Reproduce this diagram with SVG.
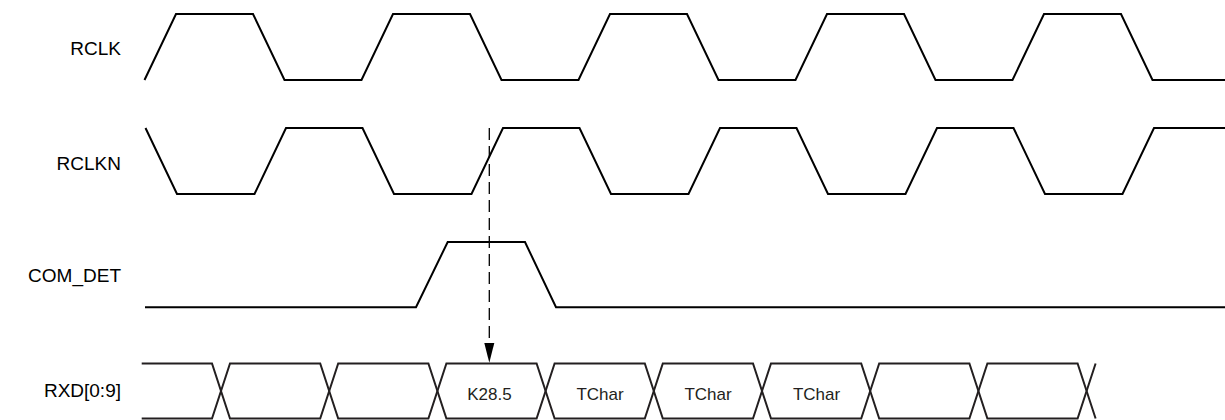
<svg xmlns="http://www.w3.org/2000/svg" width="1225" height="420" viewBox="0 0 1225 420">
<defs>
<style>
.wave{fill:none;stroke:#000;stroke-width:2;stroke-linejoin:miter}
.bus{fill:none;stroke:#231f20;stroke-width:2}
.lbl{font-family:"Liberation Sans",Arial,sans-serif;font-size:19px;fill:#000;text-anchor:end}
.val{font-family:"Liberation Sans",Arial,sans-serif;font-size:17px;fill:#231f20;text-anchor:middle}
.dash{fill:none;stroke:#000;stroke-width:1.3;stroke-dasharray:12 6}
</style>
<marker id="arr" markerWidth="10" markerHeight="20" refX="0" refY="0" viewBox="-5 -20 10 20" orient="auto" markerUnits="userSpaceOnUse" overflow="visible">
</marker>
</defs>
<rect width="1225" height="420" fill="#fff"/>
<g id="rclk">
<text class="lbl" x="121" y="55">RCLK</text>
<path class="wave" d="M144.5,80 L176,14 L253,14 L284.5,80 L361.5,80 L393,14 L470,14 L501.5,80 L578.5,80 L610,14 L687,14 L718.5,80 L795.5,80 L827,14 L904,14 L935.5,80 L1012.5,80 L1044,14 L1121,14 L1152.5,80 L1225,80"/>
</g>
<g id="rclkn">
<text class="lbl" x="121" y="170">RCLKN</text>
<path class="wave" d="M145.5,128 L177,194 L254.5,194 L286,128 L362.5,128 L394,194 L471.5,194 L503,128 L579.5,128 L611,194 L688.5,194 L720,128 L796.5,128 L828,194 L905.5,194 L937,128 L1013.5,128 L1045,194 L1122.5,194 L1154,128 L1225,128"/>
</g>
<g id="com_det">
<text class="lbl" x="121" y="282">COM_DET</text>
<path class="wave" d="M145,307.3 L416,307.3 L447.7,242 L525,242 L556,307.3 L1225,307.3"/>
</g>
<g id="rxd">
<text class="lbl" x="121" y="397">RXD[0:9]</text>
<path class="bus" d="M141.7,363.5 H212 L221,391 L212,418.5 H141.7"/>
<path class="bus" d="M221,391 L230,363.5 H320.2 L329.2,391 L320.2,418.5 H230 Z"/>
<path class="bus" d="M329.2,391 L338.2,363.5 H428.4 L437.4,391 L428.4,418.5 H338.2 Z"/>
<path class="bus" d="M437.4,391 L446.4,363.5 H536.6 L545.6,391 L536.6,418.5 H446.4 Z"/>
<path class="bus" d="M545.6,391 L554.6,363.5 H644.8 L653.8,391 L644.8,418.5 H554.6 Z"/>
<path class="bus" d="M653.8,391 L662.8,363.5 H753 L762,391 L753,418.5 H662.8 Z"/>
<path class="bus" d="M762,391 L771,363.5 H861.2 L870.2,391 L861.2,418.5 H771 Z"/>
<path class="bus" d="M870.2,391 L879.2,363.5 H969.4 L978.4,391 L969.4,418.5 H879.2 Z"/>
<path class="bus" d="M978.4,391 L987.4,363.5 H1077.6 L1086.6,391 L1077.6,418.5 H987.4 Z"/>
<path class="bus" d="M1086.6,391 L1095.6,363.5 M1086.6,391 L1095.6,418.5"/>
<text class="val" x="489.5" y="400">K28.5</text>
<text class="val" x="600" y="400">TChar</text>
<text class="val" x="708" y="400">TChar</text>
<text class="val" x="816.5" y="400">TChar</text>
</g>
<g id="connectors">
<line class="dash" x1="489.3" y1="128" x2="489.3" y2="344"/>
<polygon points="484.3,343 494.3,343 489.3,362.7" fill="#000"/>
</g>
</svg>
